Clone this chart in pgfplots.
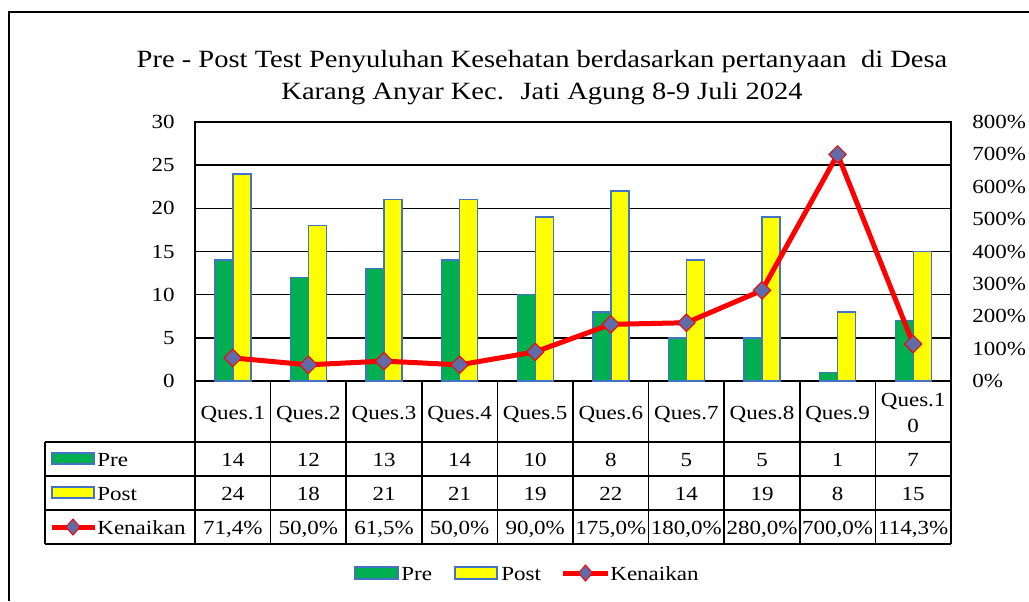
\documentclass[border=0pt]{standalone}
\usepackage{pgfplots}
\pgfplotsset{compat=1.18}
\usepackage{fontspec}
\setmainfont{Liberation Serif}[FakeStretch=1.15]
\definecolor{pregreen}{RGB}{0,176,80}
\definecolor{postyellow}{RGB}{255,255,0}
\definecolor{barblue}{RGB}{68,114,196}
\definecolor{mkblue}{RGB}{96,108,168}
\begin{document}
\fontsize{10pt}{12pt}\selectfont
\begin{tikzpicture}
\begin{scope}[x=0.5pt,y=-0.5pt]
\path[use as bounding box] (0,0) rectangle (1029,601);
% outer frame
\draw[black, line width=1pt] (9,601) -- (9,12) -- (1029,12);
% title
\node[anchor=base, inner sep=0pt, font=\fontsize{12.4pt}{14pt}\selectfont] at (542,67) {Pre - Post Test Penyuluhan Kesehatan berdasarkan pertanyaan \ di Desa};
\node[anchor=base, inner sep=0pt, font=\fontsize{12.4pt}{14pt}\selectfont] at (542,99) {Karang Anyar Kec. \ Jati Agung 8-9 Juli 2024};
\end{scope}
\begin{axis}[
  at={(97.5pt,-190.5pt)}, anchor=south west,
  scale only axis, width=378pt, height=129.5pt,
  xmin=-0.5, xmax=9.5, ymin=0, ymax=30,
  xtick=\empty, ytick={0,5,10,15,20,25,30},
  yticklabels={0,5,10,15,20,25,30},
  ymajorgrids, grid style={black, line width=0.8pt},
  axis line style={black, line width=0.8pt},
  major tick length=0pt,
  yticklabel style={anchor=east, inner sep=0pt, xshift=-10pt, font=\fontsize{10pt}{12pt}\selectfont},
  ybar=0pt, bar width=9pt,
  clip=false,
]
\addplot[fill=pregreen, draw=barblue, line width=0.7pt] coordinates {(0,14) (1,12) (2,13) (3,14) (4,10) (5,8) (6,5) (7,5) (8,1) (9,7)};
\addplot[fill=postyellow, draw=barblue, line width=0.7pt] coordinates {(0,24) (1,18) (2,21) (3,21) (4,19) (5,22) (6,14) (7,19) (8,8) (9,15)};
\end{axis}
\begin{axis}[
  at={(97.5pt,-190.5pt)}, anchor=south west,
  scale only axis, width=378pt, height=129.5pt,
  xmin=-0.5, xmax=9.5, ymin=0, ymax=800,
  axis x line=none, axis y line*=right,
  axis line style={black, line width=0.8pt},
  ytick={0,100,200,300,400,500,600,700,800},
  yticklabels={0\%,100\%,200\%,300\%,400\%,500\%,600\%,700\%,800\%},
  major tick length=0pt,
  yticklabel style={anchor=west, inner sep=0pt, xshift=10.5pt, font=\fontsize{10pt}{12pt}\selectfont},
  clip=false,
]
\addplot[red, line width=2.5pt, line join=round, mark=square*, mark size=3.1pt,
  mark options={rotate=45, fill=mkblue, draw=red, line width=0.5pt}]
  coordinates {(0,71.4) (1,50.0) (2,61.5) (3,50.0) (4,90.0) (5,175.0) (6,180.0) (7,280.0) (8,700.0) (9,114.3)};
\end{axis}
\begin{scope}[x=0.5pt,y=-0.5pt]
% data table grid
\foreach \k in {0,...,10} {\draw[black, line width=0.8pt] ({195+75.6*\k},381) -- ({195+75.6*\k},544);}
\draw[black, line width=0.8pt] (45,442) -- (45,544);
\foreach \yy in {442,476,510,544} {\draw[black, line width=0.8pt] (45,\yy) -- (951,\yy);}
% header row
\foreach \k in {1,...,9} {\node[anchor=base, inner sep=0pt] at ({195+75.6*(\k-0.5)},419) {Ques.\k};}
\node[anchor=base, inner sep=0pt] at ({195+75.6*9.5},406) {Ques.1};
\node[anchor=base, inner sep=0pt] at ({195+75.6*9.5},432) {0};
% values
\foreach \v [count=\k] in {14,12,13,14,10,8,5,5,1,7} {\node[anchor=base, inner sep=0pt] at ({195+75.6*(\k-0.5)},466) {\v};}
\foreach \v [count=\k] in {24,18,21,21,19,22,14,19,8,15} {\node[anchor=base, inner sep=0pt] at ({195+75.6*(\k-0.5)},500) {\v};}
\foreach \v [count=\k] in {71{,}4\%,50{,}0\%,61{,}5\%,50{,}0\%,90{,}0\%,175{,}0\%,180{,}0\%,280{,}0\%,700{,}0\%,114{,}3\%} {\node[anchor=base, inner sep=0pt] at ({195+75.6*(\k-0.5)},534) {\v};}
% row labels
\draw[fill=pregreen, draw=barblue, line width=0.7pt] (52,453) rectangle (94,464);
\node[anchor=base west, inner sep=0pt] at (97,466) {Pre};
\draw[fill=postyellow, draw=barblue, line width=0.7pt] (52,487) rectangle (94,498);
\node[anchor=base west, inner sep=0pt] at (97,500) {Post};
\draw[red, line width=2.5pt] (52,527) -- (95,527);
\draw[fill=mkblue, draw=red, line width=0.5pt] (73,519) -- (80,527) -- (73,535) -- (66,527) -- cycle;
\node[anchor=base west, inner sep=0pt] at (97,534) {Kenaikan};
% bottom legend
\draw[fill=pregreen, draw=barblue, line width=0.7pt] (355,567) rectangle (398,579);
\node[anchor=base west, inner sep=0pt] at (401,580) {Pre};
\draw[fill=postyellow, draw=barblue, line width=0.7pt] (455,567) rectangle (497,579);
\node[anchor=base west, inner sep=0pt] at (501,580) {Post};
\draw[red, line width=2.5pt] (563,573) -- (608,573);
\draw[fill=mkblue, draw=red, line width=0.5pt] (585.5,565) -- (592.5,573) -- (585.5,581) -- (578.5,573) -- cycle;
\node[anchor=base west, inner sep=0pt] at (610,580) {Kenaikan};
\end{scope}
\end{tikzpicture}
\end{document}
